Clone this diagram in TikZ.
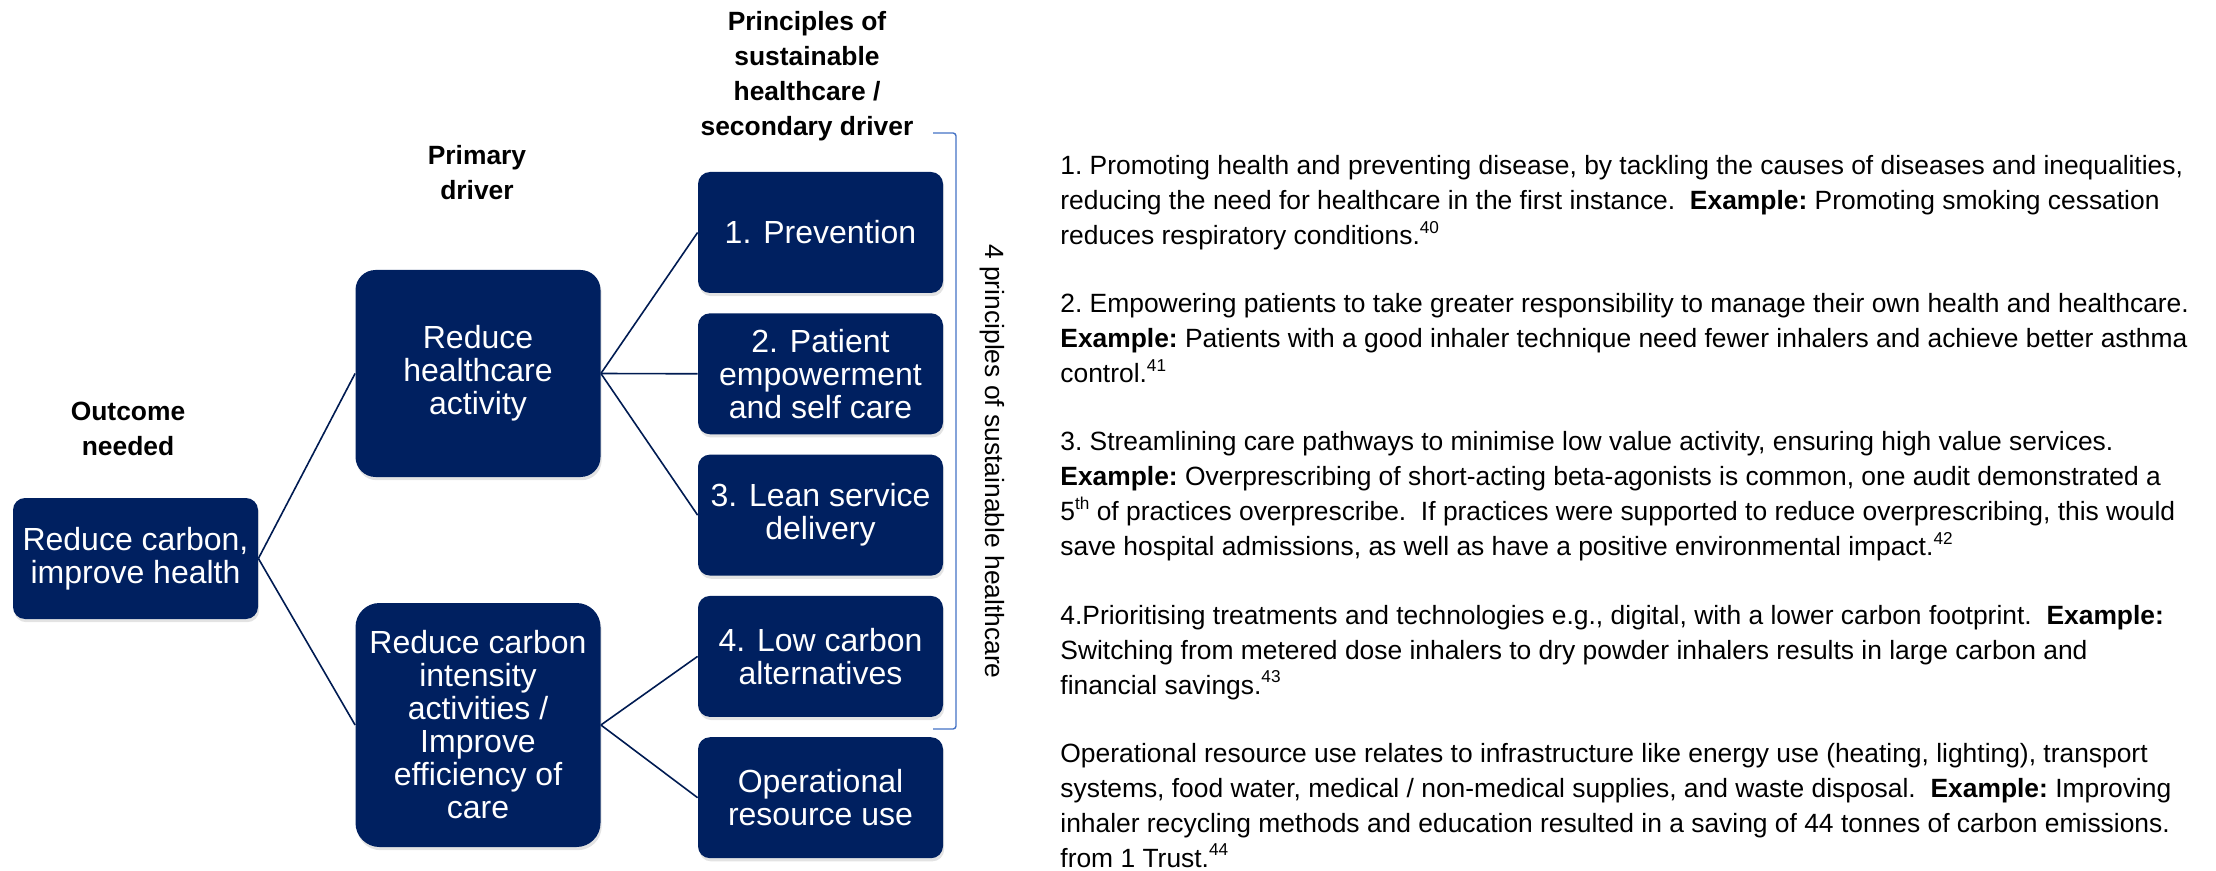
\documentclass[tikz,border=0pt]{standalone}
\usepackage{fontspec}
\setmainfont{Liberation Sans}
\usepackage{xcolor}
\usepackage{tikz}
\usetikzlibrary{positioning, shadows}
\definecolor{navy}{HTML}{002060}
\definecolor{bracketblue}{HTML}{4472C4}
\tikzstyle{driver} = [rectangle, rounded corners=6pt, minimum width=122.5pt, minimum height=60.5pt, align=center, fill=navy, text=white, font=\fontsize{16}{16.5}\selectfont, drop shadow={opacity=0.22, shadow xshift=0.6pt, shadow yshift=-1.6pt}]
\tikzstyle{heading} = [anchor=north, inner sep=0pt, align=center, font=\bfseries\fontsize{13.2}{17.5}\selectfont]
\tikzstyle{link} = [draw=navy!85!black, line width=0.8pt]
\tikzstyle{bracket} = [draw=bracketblue, line width=0.7pt, rounded corners=1.5pt]
\tikzstyle{para} = [anchor=base west, inner sep=0pt, font=\fontsize{13.2}{17.5}\selectfont\frenchspacing]
\newcommand{\refnum}[1]{\raisebox{0.42em}{\fontsize{8.6}{8.6}\selectfont #1}}
% paragraph box with fixed line pitch
\newcommand{\parlines}[1]{\parbox[t]{600pt}{\setlength{\baselineskip}{17.5pt}#1}}

\begin{document}
\begin{tikzpicture}[x=0.5pt, y=-0.5pt, node distance=9.75pt]
	\useasboundingbox (0,0) rectangle (2216,871);

	% nodes
	\node (outcome) [driver] at (135.5,558.5) {Reduce carbon,\\improve health};

	\node (activity) [driver, minimum height=103.5pt, rounded corners=10pt] at (478,373.5) {Reduce\\healthcare\\activity};

	\node (intensity) [driver, minimum height=122pt, rounded corners=12pt] at (478,725) {Reduce carbon\\intensity\\activities /\\Improve\\efficiency of\\care};

	\node (prevention) [driver] at (820.5,232.5) {1. Prevention};

	\node (empowerment) [driver, below=of prevention] {2. Patient\\empowerment\\and self care};

	\node (lean) [driver, below=of empowerment] {3. Lean service\\delivery};

	\node (low-carbon) [driver, below=of lean] {4. Low carbon\\alternatives};

	\node (operational) [driver, below=of low-carbon] {Operational\\resource use};

	% headings
	\node (outcome-head) [heading] at (128,402) {Outcome\\needed};
	\node (primary-head) [heading] at (477,145) {Primary\\driver};
	\node (secondary-head) [heading] at (807,11) {Principles of\\sustainable\\healthcare /\\secondary driver};

	% bracket round the four principles
	\coordinate (bracket-top) at (933,133);
	\coordinate (bracket-bottom) at (933,729);
	\draw [bracket] (bracket-top) -- ++(23,0) |- (bracket-bottom);
	\node (principles-label) [rotate=-90, anchor=base, inner sep=0pt, font=\fontsize{13.2}{17.5}\selectfont] at (985,461.5) {4 principles of sustainable healthcare};

	% links
	\draw [link] (outcome.east) -- (activity.west);
	\draw [link] (outcome.east) -- (intensity.west);
	\draw [link] (activity.east) -- (prevention.west);
	\draw [link] (activity.east) -- (empowerment.west);
	\draw [link] (activity.east) -- (lean.west);
	\draw [link] (intensity.east) -- (low-carbon.west);
	\draw [link] (intensity.east) -- (operational.west);

	% explanations
	\node (prevention-text) [para] at (1060,175) {\parlines{%
		1. Promoting health and preventing disease, by tackling the causes of diseases and inequalities,\\
		reducing the need for healthcare in the first instance.\ \ \textbf{Example:} Promoting smoking cessation\\
		reduces respiratory conditions.\refnum{40}}};

	\node (empowerment-text) [para] at (1060,313) {\parlines{%
		2. Empowering patients to take greater responsibility to manage their own health and healthcare.\\
		\textbf{Example:} Patients with a good inhaler technique need fewer inhalers and achieve better asthma\\
		control.\refnum{41}}};

	\node (lean-text) [para] at (1060,451) {\parlines{%
		3. Streamlining care pathways to minimise low value activity, ensuring high value services.\\
		\textbf{Example:} Overprescribing of short-acting beta-agonists is common, one audit demonstrated a\\
		5\refnum{th} of practices overprescribe.\ \ If practices were supported to reduce overprescribing, this would\\
		save hospital admissions, as well as have a positive environmental impact.\refnum{42}}};

	\node (low-carbon-text) [para] at (1060,624) {\parlines{%
		4.Prioritising treatments and technologies e.g., digital, with a lower carbon footprint.\ \ \textbf{Example:}\\
		Switching from metered dose inhalers to dry powder inhalers results in large carbon and\\
		financial savings.\refnum{43}}};

	\node (operational-text) [para] at (1060,762) {\parlines{%
		Operational resource use relates to infrastructure like energy use (heating, lighting), transport\\
		systems, food water, medical / non-medical supplies, and waste disposal.\ \ \textbf{Example:} Improving\\
		inhaler recycling methods and education resulted in a saving of 44 tonnes of carbon emissions.\\
		from 1 Trust.\refnum{44}}};
\end{tikzpicture}
\end{document}
